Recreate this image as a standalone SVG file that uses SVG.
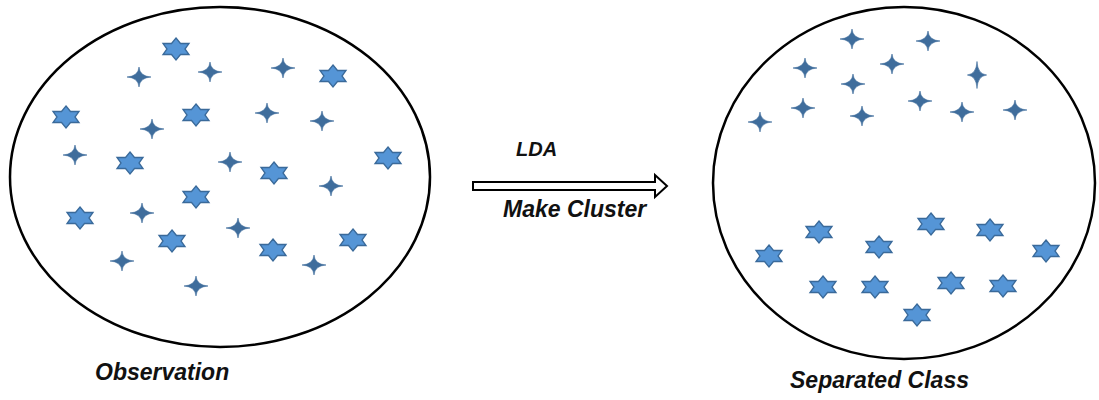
<svg xmlns="http://www.w3.org/2000/svg" xmlns:xlink="http://www.w3.org/1999/xlink" width="1099" height="400" viewBox="0 0 1099 400">
<style>
.cl{fill:none;stroke:#000;stroke-width:2.5}
.hex{fill:#5595d6;stroke:#3a6a9a;stroke-width:1.3;stroke-linejoin:miter}
.sp{fill:#3f6d9c;stroke:#3f6d9c;stroke-width:0.6}
.lbl{font-family:"Liberation Sans",Arial,sans-serif;font-weight:bold;font-style:italic;fill:#111}
.arrow{fill:#fff;stroke:#000;stroke-width:2;stroke-linejoin:miter}
</style>
<defs>
<path id="hx" class="hex" d="M0,-11 L4.5,-5.5 L13,-5.5 L9,0 L13,5.5 L4.5,5.5 L0,11 L-4.5,5.5 L-13,5.5 L-9,0 L-13,-5.5 L-4.5,-5.5 Z"/>
<path id="sk" class="sp" d="M0,-10 Q0.7,-0.7 12,0 Q0.7,0.7 0,10 Q-0.7,0.7 -12,0 Q-0.7,-0.7 0,-10 Z"/>
</defs>
<rect width="1099" height="400" fill="#fff"/>

<g id="observation">
<ellipse class="cl" cx="220" cy="177" rx="210" ry="170"/>
<use href="#hx" x="176" y="49"/>
<use href="#hx" x="333" y="76"/>
<use href="#hx" x="66" y="117"/>
<use href="#hx" x="196" y="115"/>
<use href="#hx" x="130" y="163"/>
<use href="#hx" x="388" y="158"/>
<use href="#hx" x="274" y="173"/>
<use href="#hx" x="196" y="197"/>
<use href="#hx" x="80" y="218"/>
<use href="#hx" x="172" y="241"/>
<use href="#hx" x="273" y="250"/>
<use href="#hx" x="353" y="240"/>
<use href="#sk" x="139" y="77"/>
<use href="#sk" x="210" y="72"/>
<use href="#sk" x="283" y="68"/>
<use href="#sk" x="152" y="129"/>
<use href="#sk" x="267" y="113"/>
<use href="#sk" x="322" y="121"/>
<use href="#sk" x="75" y="155"/>
<use href="#sk" x="230" y="162"/>
<use href="#sk" x="331" y="186"/>
<use href="#sk" x="142" y="213"/>
<use href="#sk" x="238" y="228"/>
<use href="#sk" x="122" y="261"/>
<use href="#sk" x="314" y="265"/>
<use href="#sk" x="196" y="286"/>
<text class="lbl" x="95" y="380" font-size="23">Observation</text>
</g>

<g id="separated-class">
<ellipse class="cl" cx="904" cy="183" rx="191" ry="176"/>
<use href="#sk" x="852" y="39"/>
<use href="#sk" x="928" y="41"/>
<use href="#sk" x="805" y="68"/>
<use href="#sk" x="892" y="64"/>
<use href="#sk" transform="translate(977,75) scale(0.8,1.35)"/>
<use href="#sk" x="853" y="84"/>
<use href="#sk" x="803" y="108"/>
<use href="#sk" x="920" y="101"/>
<use href="#sk" x="962" y="112"/>
<use href="#sk" x="1015" y="110"/>
<use href="#sk" x="760" y="122"/>
<use href="#sk" x="862" y="116"/>
<use href="#hx" x="819" y="232"/>
<use href="#hx" x="931" y="224"/>
<use href="#hx" x="990" y="230"/>
<use href="#hx" x="769" y="256"/>
<use href="#hx" x="879" y="247"/>
<use href="#hx" x="1046" y="251"/>
<use href="#hx" x="823" y="287"/>
<use href="#hx" x="875" y="287"/>
<use href="#hx" x="951" y="283"/>
<use href="#hx" x="1003" y="286"/>
<use href="#hx" x="917" y="315"/>
<text class="lbl" x="790" y="388" font-size="23">Separated Class</text>
</g>

<g id="connectors">
<polygon class="arrow" points="473,182 655,182 655,175 667,186 655,197 655,190 473,190"/>
<text class="lbl" x="516" y="156" font-size="20">LDA</text>
<text class="lbl" x="503" y="217" font-size="23">Make Cluster</text>
</g>
</svg>
